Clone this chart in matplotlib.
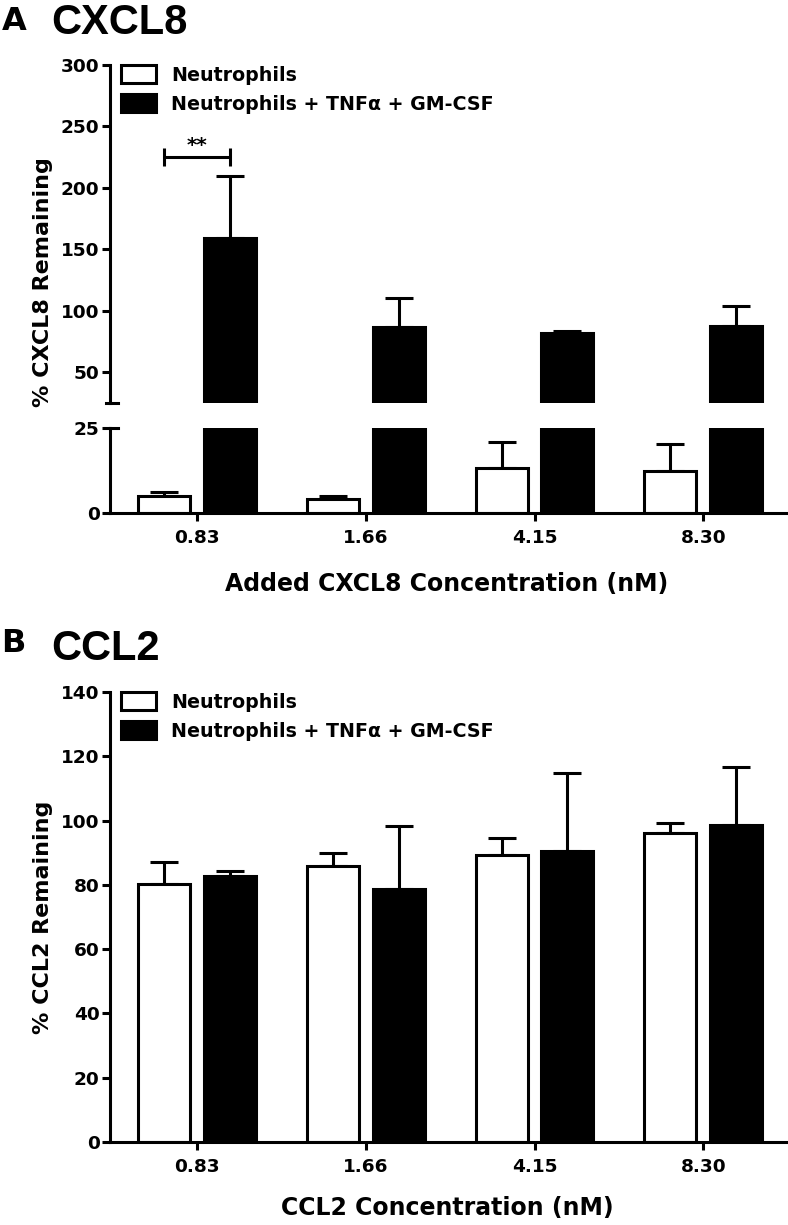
#!/usr/bin/env python3

import numpy as np
import matplotlib
matplotlib.use("Agg")
import matplotlib.pyplot as plt
from matplotlib.patches import Patch
from matplotlib.lines import Line2D

plt.rcParams['font.family'] = ['DejaVu Sans']
plt.rcParams['font.weight'] = 'bold'

# data
conc_a = ["0.83", "1.66", "4.15", "8.30"]
conc_b = ["0.83", "1.66", "4.15", "8.30"]

cxcl8_neut = [5.0, 4.1, 13.2, 12.4]
cxcl8_neut_err = [1.2, 0.9, 7.7, 7.9]
cxcl8_stim = [159.0, 86.7, 81.8, 87.5]
cxcl8_stim_err = [50.6, 23.6, 1.6, 16.2]

ccl2_neut = [80.3, 85.9, 89.3, 96.1]
ccl2_neut_err = [6.8, 4.0, 5.3, 3.2]
ccl2_stim = [82.8, 78.7, 90.5, 98.6]
ccl2_stim_err = [1.5, 19.6, 24.3, 18.1]

labels = ["Neutrophils", "Neutrophils + TNFα + GM-CSF"]
sig_y = 225
sig_text = "**"

W, H = 788, 1225
LW = 2.2
TICK = 13.3
OFF = 0.195
BW = 0.308
XLIM = (-0.516, 3.49)
TITLE_FONT = ['Liberation Sans', 'DejaVu Sans']


def fx(px):
    return px / W


def fy(py):
    return 1 - py / H


def style_axis(ax):
    for s in ["top", "right"]:
        ax.spines[s].set_visible(False)
    for s in ["left", "bottom"]:
        ax.spines[s].set_linewidth(LW)
    ax.tick_params(width=LW, length=5.5, labelsize=TICK, direction="out")
    ax.tick_params(axis="y", pad=2)
    ax.set_xlim(*XLIM)


def draw_bars(ax, neut, neut_err, stim, stim_err):
    x = np.arange(len(neut))
    zero = [0] * len(neut)
    ax.bar(x - OFF, neut, BW, color="white", edgecolor="black", linewidth=LW, zorder=2)
    ax.bar(x + OFF, stim, BW, color="black", edgecolor="black", linewidth=LW, zorder=2)
    ax.errorbar(x - OFF, neut, yerr=[zero, neut_err], fmt="none", ecolor="black",
                elinewidth=LW, capsize=10, capthick=LW, zorder=1)
    ax.errorbar(x + OFF, stim, yerr=[zero, stim_err], fmt="none", ecolor="black",
                elinewidth=LW, capsize=10, capthick=LW, zorder=1)


def add_legend(ax, top_px):
    handles = [Patch(facecolor="white", edgecolor="black", linewidth=LW),
               Patch(facecolor="black", edgecolor="black", linewidth=LW)]
    leg = ax.legend(handles, labels, loc="upper left",
                    bbox_to_anchor=(fx(121), fy(top_px)),
                    bbox_transform=ax.figure.transFigure,
                    frameon=False, fontsize=13.7, handlelength=1.85,
                    handleheight=1.1, handletextpad=0.8, labelspacing=0.5,
                    borderpad=0, borderaxespad=0)
    return leg


fig = plt.figure(figsize=(W / 100, H / 100), dpi=100)

# ---- panel A: broken y axis
ax_up = fig.add_axes([fx(110), fy(403), fx(676), (403 - 65) / H])
ax_lo = fig.add_axes([fx(110), fy(513), fx(676), (513 - 428) / H])

for ax in (ax_up, ax_lo):
    style_axis(ax)
    draw_bars(ax, cxcl8_neut, cxcl8_neut_err, cxcl8_stim, cxcl8_stim_err)

ax_up.set_ylim(25, 300)
ax_up.set_yticks([50, 100, 150, 200, 250, 300])
ax_up.spines["bottom"].set_visible(False)
ax_up.tick_params(axis="x", bottom=False, labelbottom=False)
ax_up.add_line(Line2D([-0.006, 0.012], [0, 0], transform=ax_up.transAxes,
                      color="black", lw=LW, clip_on=False))

ax_lo.set_ylim(0, 25)
ax_lo.set_yticks([0, 25])
ax_lo.set_xticks(np.arange(len(conc_a)))
ax_lo.set_xticklabels(conc_a)
ax_lo.tick_params(axis="x", pad=6)
ax_lo.add_line(Line2D([0, 0.012], [1, 1], transform=ax_lo.transAxes,
                      color="black", lw=LW, clip_on=False))

# significance bracket
ax_up.errorbar([0], [sig_y], xerr=[OFF], fmt="none", ecolor="black",
               elinewidth=LW, capsize=6.5, capthick=LW)
ax_up.text(0, sig_y + 2, sig_text, ha="center", va="bottom", fontsize=14.5)

add_legend(ax_up, 65)

fig.text(fx(2), fy(21), "A", fontsize=23, fontweight="heavy", va="center",
         ha="left")
fig.text(fx(51), fy(23), "CXCL8", fontsize=30, fontweight="bold", va="center",
         ha="left", family=TITLE_FONT)
fig.text(fx(43), fy(282), "% CXCL8 Remaining", fontsize=16, rotation=90,
         va="center", ha="center")
fig.text(fx(447), fy(584), "Added CXCL8 Concentration (nM)", fontsize=17,
         va="center", ha="center")

# ---- panel B
ax_b = fig.add_axes([fx(110), fy(1142), fx(676), (1142 - 692) / H])
style_axis(ax_b)
draw_bars(ax_b, ccl2_neut, ccl2_neut_err, ccl2_stim, ccl2_stim_err)
ax_b.set_ylim(0, 140)
ax_b.set_yticks(np.arange(0, 141, 20))
ax_b.set_xticks(np.arange(len(conc_b)))
ax_b.set_xticklabels(conc_b)
ax_b.tick_params(axis="x", pad=6)

add_legend(ax_b, 692)

fig.text(fx(1), fy(643), "B", fontsize=23, fontweight="heavy", va="center",
         ha="left")
fig.text(fx(51), fy(649), "CCL2", fontsize=30, fontweight="bold", va="center",
         ha="left", family=TITLE_FONT)
fig.text(fx(43), fy(917), "% CCL2 Remaining", fontsize=16, rotation=90,
         va="center", ha="center")
fig.text(fx(447), fy(1208), "CCL2 Concentration (nM)", fontsize=17,
         va="center", ha="center")

fig.savefig("out.png", dpi=100)
